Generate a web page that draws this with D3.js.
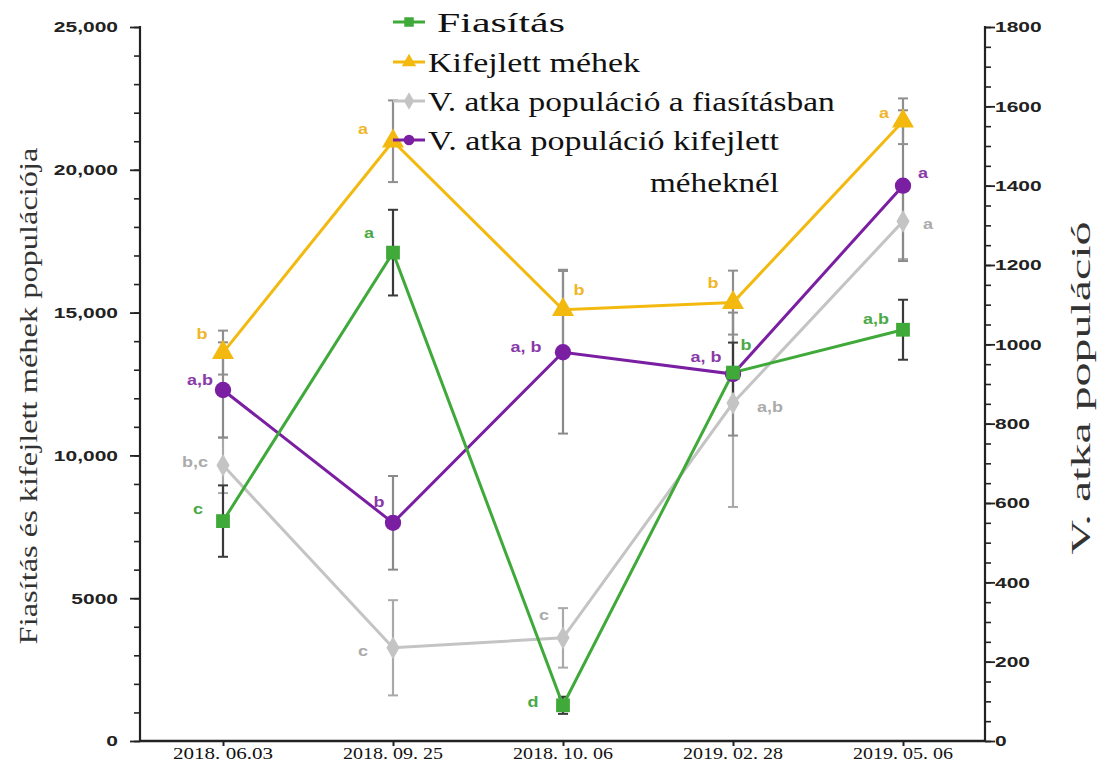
<!DOCTYPE html>
<html>
<head>
<meta charset="utf-8">
<script src="https://cdn.jsdelivr.net/npm/d3@7"></script>
<style>
  html, body { margin: 0; padding: 0; background: #fff; }
  svg { display: block; }
  .serif { font-family: "Liberation Serif", "Times New Roman", serif; }
  .sans { font-family: "Liberation Sans", Arial, sans-serif; }
</style>
</head>
<body>
<svg id="chart" width="1100" height="771"></svg>
<script>
// Sampling dates
const categories = ["2018. 06.03", "2018. 09. 25", "2018. 10. 06", "2019. 02. 28", "2019. 05. 06"];

// Left axis series (brood and adult bee population)
const fiasitas = [7700, 17100, 1250, 12900, 14400];
const fiasitasErr = [1250, 1500, 300, 1050, 1050];
const fiasitasSig = ["c", "a", "d", "b", "a,b"];

const kifejlett = [13600, 21000, 15100, 15350, 21700];
const kifejlettErr = [770, 1430, 1400, 1120, 800];
const kifejlettSig = ["b", "a", "b", "b", "a"];

// Right axis series (Varroa mite population)
const atkaFias = [695, 235, 260, 852, 1310];
const atkaFiasErr = [70, 120, 75, 262, 95];
const atkaFiasSig = ["b,c", "c", "c", "a,b", "a"];

const atkaKif = [885, 550, 980, 925, 1400];
const atkaKifErr = [120, 118, 205, 155, 190];
const atkaKifSig = ["a,b", "b", "a, b", "a, b", "a"];

// Tick labels
const leftTicks = [0, 5000, 10000, 15000, 20000, 25000];
const leftTickLabels = ["0", "5000", "10,000", "15,000", "20,000", "25,000"];
const rightTicks = [0, 200, 400, 600, 800, 1000, 1200, 1400, 1600, 1800];

const legendLabels = ["Fiasítás", "Kifejlett méhek", "V. atka populáció a fiasításban", "V. atka populáció kifejlett"];
const legendExtra = "méheknél";

// ---- layout ----
const svg = d3.select("#chart");
const X0 = 140, X1 = 985, Y0 = 741, Y1 = 27;
const SX = 1.4; // horizontal stretch of the sans labels

const x = d3.scalePoint().domain(categories).range([138, 988]).padding(0.5);
const yL = d3.scaleLinear().domain([0, 25000]).range([Y0, Y1]);
const yR = d3.scaleLinear().domain([0, 1800]).range([Y0, Y1]);

// Place a text at (px, py), rotated by rot, stretched along its baseline to width w
function fitText(sel, px, py, rot, w) {
  const natural = sel.node().getComputedTextLength();
  sel.attr("x", 0).attr("y", 0)
    .attr("transform", `translate(${px},${py}) rotate(${rot}) scale(${w / natural},1)`);
  return sel;
}

// significance-letter placement around each marker (layout only)
const labelOffsets = {
  fias: [[-25, -12], [-24, -20], [-30, -3], [13, -28], [-27, -11]],
  kif: [[-21, -19], [-30, -12], [16, -20], [-20, -20], [-19, -8]],
  atkaFias: [[-28, -3], [-30, 3], [-19, -23], [37, 4], [25, 3]],
  atkaKif: [[-23, -10], [-14, -21], [-37, -5], [-27, -17], [20, -13]]
};

const series = [
  { key: "atkaFias", vals: atkaFias, err: atkaFiasErr, sig: atkaFiasSig, y: yR, color: "#c4c4c4", errColor: "#a9a9a9", labelColor: "#ababab", shape: "diamond" },
  { key: "atkaKif", vals: atkaKif, err: atkaKifErr, sig: atkaKifSig, y: yR, color: "#7a1fa2", errColor: "#8a8a8a", labelColor: "#8a3aa8", shape: "circle" },
  { key: "kif", vals: kifejlett, err: kifejlettErr, sig: kifejlettSig, y: yL, color: "#f3b90f", errColor: "#8f8f8f", labelColor: "#f0b62a", shape: "triangle" },
  { key: "fias", vals: fiasitas, err: fiasitasErr, sig: fiasitasSig, y: yL, color: "#3fa93a", errColor: "#3a3a3a", labelColor: "#4aa946", shape: "square" }
];

const symbolType = { square: d3.symbolSquare, triangle: d3.symbolTriangle, circle: d3.symbolCircle, diamond: d3.symbolDiamond };
const symbolSize = { square: 190, triangle: 210, circle: 210, diamond: 150 };

// ---- axes ----
// left axis
const gL = svg.append("g").attr("transform", `translate(${X0},0)`);
gL.call(d3.axisLeft(yL).tickValues(d3.range(0, 25001, 1000)).tickSize(6).tickFormat(""));
gL.select(".domain").remove();
gL.selectAll(".tick line").attr("stroke", "#222").attr("stroke-width", 1.6);
const gLMaj = svg.append("g").attr("transform", `translate(${X0},0)`);
gLMaj.call(d3.axisLeft(yL).tickValues(leftTicks).tickSize(10).tickFormat((d, i) => leftTickLabels[i]));
gLMaj.attr("font-family", null).attr("font-size", null);
gLMaj.select(".domain").remove();
gLMaj.selectAll(".tick line").attr("stroke", "#222").attr("stroke-width", 1.8);
gLMaj.selectAll(".tick text").attr("class", "sans").attr("x", -22 / SX).attr("transform", `scale(${SX},1)`)
  .attr("font-weight", "bold").attr("font-size", 15).attr("fill", "#222");
svg.append("line").attr("x1", X0).attr("x2", X0).attr("y1", Y1 - 1).attr("y2", Y0 + 1)
  .attr("stroke", "#222").attr("stroke-width", 2.2);

// right axis
const gR = svg.append("g").attr("transform", `translate(${X1},0)`);
gR.call(d3.axisRight(yR).tickValues(d3.range(0, 1801, 50)).tickSize(6).tickFormat(""));
gR.select(".domain").remove();
gR.selectAll(".tick line").attr("stroke", "#222").attr("stroke-width", 1.6);
const gRMaj = svg.append("g").attr("transform", `translate(${X1},0)`);
gRMaj.call(d3.axisRight(yR).tickValues(rightTicks).tickSize(10).tickFormat(d3.format("d")));
gRMaj.attr("font-family", null).attr("font-size", null);
gRMaj.select(".domain").remove();
gRMaj.selectAll(".tick line").attr("stroke", "#222").attr("stroke-width", 1.8);
gRMaj.selectAll(".tick text").attr("class", "sans").attr("x", 10 / SX).attr("transform", `scale(${SX},1)`)
  .attr("font-weight", "bold").attr("font-size", 15).attr("fill", "#222");
svg.append("line").attr("x1", X1).attr("x2", X1).attr("y1", Y1 - 1).attr("y2", Y0 + 1)
  .attr("stroke", "#222").attr("stroke-width", 2.2);

// bottom axis
const gB = svg.append("g").attr("transform", `translate(0,${Y0})`);
gB.call(d3.axisBottom(x).tickSize(5).tickFormat(""));
gB.select(".domain").remove();
gB.selectAll(".tick line").attr("stroke", "#222").attr("stroke-width", 2);
categories.forEach(c => {
  const t = svg.append("text").attr("class", "serif").attr("text-anchor", "middle")
    .attr("font-size", 16).attr("fill", "#111").attr("dy", "0.71em").text(c);
  fitText(t, x(c), Y0 + 7, 0, 100);
});
svg.append("line").attr("x1", X0).attr("x2", X1).attr("y1", Y0).attr("y2", Y0)
  .attr("stroke", "#222").attr("stroke-width", 2.6);

// axis titles
fitText(svg.append("text").attr("class", "serif").attr("text-anchor", "middle")
  .attr("dominant-baseline", "central").attr("font-size", 26).attr("fill", "#333")
  .text("Fiasítás és kifejlett méhek populációja"), 28, 396, -90, 497);
fitText(svg.append("text").attr("class", "serif").attr("text-anchor", "middle")
  .attr("dominant-baseline", "central").attr("font-size", 27).attr("fill", "#333")
  .text("V. atka populáció"), 1081, 388, -90, 333);

// ---- error bars ----
const capW = 5;
series.forEach(s => {
  const g = svg.append("g");
  s.vals.forEach((v, i) => {
    const cx = x(categories[i]);
    const top = s.y(v + s.err[i]), bot = s.y(v - s.err[i]);
    g.append("line").attr("x1", cx).attr("x2", cx).attr("y1", top).attr("y2", bot)
      .attr("stroke", s.errColor).attr("stroke-width", 2.2);
    [top, bot].forEach(yy => g.append("line")
      .attr("x1", cx - capW).attr("x2", cx + capW).attr("y1", yy).attr("y2", yy)
      .attr("stroke", s.errColor).attr("stroke-width", 2));
  });
});

// ---- lines ----
series.forEach(s => {
  const line = d3.line().x((d, i) => x(categories[i])).y(d => s.y(d));
  svg.append("path").datum(s.vals).attr("d", line)
    .attr("fill", "none").attr("stroke", s.color).attr("stroke-width", 3)
    .attr("stroke-linejoin", "miter");
});

// ---- markers ----
series.forEach(s => {
  svg.append("g").selectAll("path").data(s.vals).join("path")
    .attr("d", d3.symbol().type(symbolType[s.shape]).size(symbolSize[s.shape]))
    .attr("transform", (d, i) => `translate(${x(categories[i])},${s.y(d)})`)
    .attr("fill", s.color);
});

// ---- significance letters ----
series.forEach(s => {
  svg.append("g").selectAll("text").data(s.sig).join("text")
    .attr("class", "sans")
    .attr("transform", (d, i) =>
      `translate(${x(categories[i]) + labelOffsets[s.key][i][0]},${s.y(s.vals[i]) + labelOffsets[s.key][i][1]}) scale(1.2,1)`)
    .attr("text-anchor", "middle").attr("dominant-baseline", "central")
    .attr("font-weight", "bold").attr("font-size", 15)
    .attr("fill", s.labelColor)
    .text(d => d);
});

// ---- legend ----
const legendOrder = ["fias", "kif", "atkaFias", "atkaKif"];
const legendY = [22, 62, 101, 140];
const legendTextX = [437, 428, 428, 428];
const legendTextW = [128, 212, 407, 351];
const lg = svg.append("g");
legendOrder.forEach((k, i) => {
  const s = series.find(d => d.key === k);
  lg.append("line").attr("x1", 393).attr("x2", 425).attr("y1", legendY[i]).attr("y2", legendY[i])
    .attr("stroke", s.color).attr("stroke-width", 3);
  lg.append("path").attr("d", d3.symbol().type(symbolType[s.shape]).size(90))
    .attr("transform", `translate(409,${legendY[i]})`).attr("fill", s.color);
  const t = lg.append("text").attr("class", "serif")
    .attr("dominant-baseline", "central")
    .attr("font-size", 27).attr("fill", "#111")
    .text(legendLabels[i]);
  fitText(t, legendTextX[i], legendY[i] + 1, 0, legendTextW[i]);
});
fitText(lg.append("text").attr("class", "serif").attr("text-anchor", "end")
  .attr("dominant-baseline", "central")
  .attr("font-size", 27).attr("fill", "#111")
  .text(legendExtra), 779, 183, 0, 129);
</script>
</body>
</html>
